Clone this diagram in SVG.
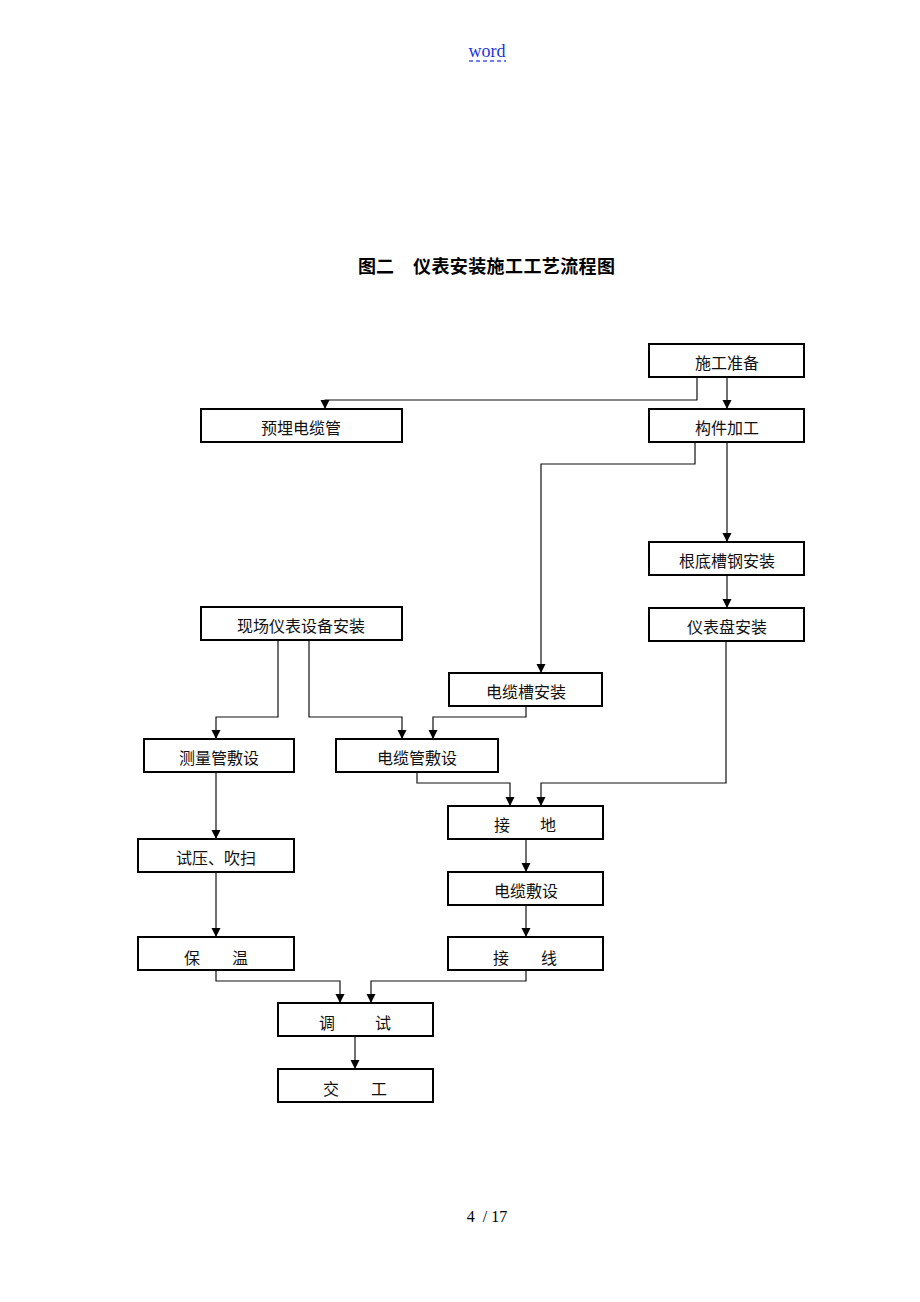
<svg xmlns="http://www.w3.org/2000/svg" width="920" height="1302" viewBox="0 0 920 1302">
<style>
.box{fill:#fff;stroke:#000;stroke-width:2}
.lbl{font-family:"Noto Sans CJK SC",sans-serif;font-size:16px;fill:#111;text-anchor:middle}
.ln{fill:none;stroke:#111;stroke-width:1.2}
</style>
<defs>
<marker id="ah" viewBox="0 0 10 10" markerUnits="userSpaceOnUse" markerWidth="9" markerHeight="11" refX="10" refY="5" orient="auto">
<path d="M0,0 L10,5 L0,10 z" fill="#000"/>
</marker>
</defs>
<rect width="920" height="1302" fill="#fff"/>
<text x="487" y="57" font-family="Liberation Serif, serif" font-size="18" fill="#2233dd" text-anchor="middle">word</text>
<line x1="469" y1="61" x2="506" y2="61" stroke="#4455ee" stroke-width="1.5" stroke-dasharray="4,3"/>
<text x="358" y="273" font-family="Noto Sans CJK SC, sans-serif" font-size="18" font-weight="bold" fill="#000">图二</text>
<text x="413" y="273" font-family="Noto Sans CJK SC, sans-serif" font-size="18" font-weight="bold" fill="#000" textLength="202">仪表安装施工工艺流程图</text>
<text x="487" y="1222" font-family="Liberation Serif, serif" font-size="16" fill="#000" text-anchor="middle" xml:space="preserve">4  / 17</text>

<g id="connectors">
<path class="ln" marker-end="url(#ah)" d="M727 377 V409"/>
<path class="ln" marker-end="url(#ah)" d="M697 377 V400 H325 V409"/>
<path class="ln" marker-end="url(#ah)" d="M727 442 V542"/>
<path class="ln" marker-end="url(#ah)" d="M695 442 V464 H541 V673"/>
<path class="ln" marker-end="url(#ah)" d="M727 575 V608"/>
<path class="ln" marker-end="url(#ah)" d="M278 640 V717 H216 V739"/>
<path class="ln" marker-end="url(#ah)" d="M309 640 V717 H402 V739"/>
<path class="ln" marker-end="url(#ah)" d="M526 706 V717 H433 V739"/>
<path class="ln" marker-end="url(#ah)" d="M417 772 V783 H510 V806"/>
<path class="ln" marker-end="url(#ah)" d="M726 641 V783 H541 V806"/>
<path class="ln" marker-end="url(#ah)" d="M216 772 V839"/>
<path class="ln" marker-end="url(#ah)" d="M216 872 V937"/>
<path class="ln" marker-end="url(#ah)" d="M526 839 V872"/>
<path class="ln" marker-end="url(#ah)" d="M526 905 V937"/>
<path class="ln" marker-end="url(#ah)" d="M216 970 V981 H340 V1003"/>
<path class="ln" marker-end="url(#ah)" d="M526 970 V981 H371 V1003"/>
<path class="ln" marker-end="url(#ah)" d="M355 1036 V1069"/>
</g>

<g id="n1"><rect class="box" x="649" y="344" width="155" height="33"/><text class="lbl" x="727" y="369">施工准备</text></g>
<g id="n2"><rect class="box" x="201" y="409" width="201" height="33"/><text class="lbl" x="301" y="434">预埋电缆管</text></g>
<g id="n3"><rect class="box" x="649" y="409" width="155" height="33"/><text class="lbl" x="727" y="434">构件加工</text></g>
<g id="n4"><rect class="box" x="649" y="542" width="155" height="33"/><text class="lbl" x="727" y="567">根底槽钢安装</text></g>
<g id="n5"><rect class="box" x="201" y="607" width="201" height="33"/><text class="lbl" x="301" y="632">现场仪表设备安装</text></g>
<g id="n6"><rect class="box" x="649" y="608" width="155" height="33"/><text class="lbl" x="727" y="633">仪表盘安装</text></g>
<g id="n7"><rect class="box" x="449" y="673" width="153" height="33"/><text class="lbl" x="526" y="698">电缆槽安装</text></g>
<g id="n8"><rect class="box" x="144" y="739" width="150" height="33"/><text class="lbl" x="219" y="764">测量管敷设</text></g>
<g id="n9"><rect class="box" x="336" y="739" width="162" height="33"/><text class="lbl" x="417" y="764">电缆管敷设</text></g>
<g id="n10"><rect class="box" x="448" y="806" width="155" height="33"/><text class="lbl" x="502 548" y="831">接地</text></g>
<g id="n11"><rect class="box" x="138" y="839" width="156" height="33"/><text class="lbl" x="216" y="864">试压、吹扫</text></g>
<g id="n12"><rect class="box" x="448" y="872" width="155" height="33"/><text class="lbl" x="526" y="897">电缆敷设</text></g>
<g id="n13"><rect class="box" x="138" y="937" width="156" height="33"/><text class="lbl" x="192 240" y="964">保温</text></g>
<g id="n14"><rect class="box" x="448" y="937" width="155" height="33"/><text class="lbl" x="501 549" y="964">接线</text></g>
<g id="n15"><rect class="box" x="278" y="1003" width="155" height="33"/><text class="lbl" x="327 383" y="1029">调试</text></g>
<g id="n16"><rect class="box" x="278" y="1069" width="155" height="33"/><text class="lbl" x="331 379" y="1095">交工</text></g>
</svg>
